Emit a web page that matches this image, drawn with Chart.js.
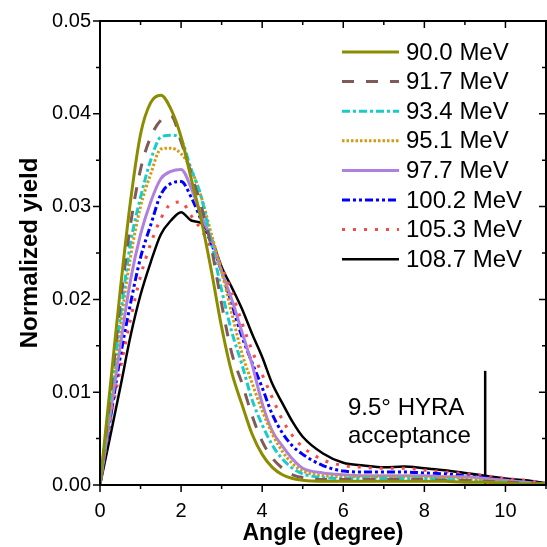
<!DOCTYPE html>
<html>
<head>
<meta charset="utf-8">
<script src="https://cdn.jsdelivr.net/npm/chart.js@4.4.1/dist/chart.umd.min.js"></script>
<style>
    html, body { margin: 0; padding: 0; background: #fff; }
    #wrap { width: 547px; height: 547px; }
</style>
</head>
<body>
<div id="wrap"><canvas id="yield-chart"></canvas></div>
<script>
// angle grid (degree)
const angles = [0, 0.25, 0.5, 0.75, 1, 1.25, 1.5, 1.75, 2, 2.25, 2.5, 2.75, 3, 3.25, 3.5, 3.75,
    4, 4.25, 4.5, 4.75, 5, 5.5, 6, 6.5, 7, 7.5, 8, 8.5, 9, 9.5, 10, 10.5, 11];

const energyLabels = ['90.0 MeV', '91.7 MeV', '93.4 MeV', '95.1 MeV', '97.7 MeV', '100.2 MeV', '105.3 MeV', '108.7 MeV'];

const yield900 = [0, 0.0105, 0.021, 0.0305, 0.0378, 0.0412, 0.042, 0.0405, 0.0375, 0.033, 0.0285, 0.023, 0.017,
    0.0121, 0.0087, 0.0055, 0.0033, 0.0019, 0.0011, 0.0007, 0.0005, 0.0004, 0.0004, 0.0004, 0.0004, 0.0004,
    0.0004, 0.0004, 0.0003, 0.0003, 0.0002, 0.0001, 0.0001];
const yield917 = [0, 0.0095, 0.0195, 0.028, 0.034, 0.0375, 0.0393, 0.0398, 0.037, 0.0335, 0.030, 0.0255, 0.0195,
    0.0142, 0.011, 0.0075, 0.0047, 0.0029, 0.0018, 0.0011, 0.0008, 0.0006, 0.0006, 0.0006, 0.0006, 0.0006,
    0.0006, 0.0005, 0.0005, 0.0004, 0.0003, 0.0002, 0.0001];
const yield934 = [0, 0.009, 0.018, 0.026, 0.031, 0.035, 0.0375, 0.0377, 0.0372, 0.034, 0.031, 0.026, 0.021,
    0.0165, 0.013, 0.0092, 0.0065, 0.0043, 0.0028, 0.0018, 0.0012, 0.0008, 0.0007, 0.0007, 0.0007, 0.0007,
    0.0007, 0.0006, 0.0005, 0.0004, 0.0003, 0.0002, 0.0001];
const yield951 = [0, 0.0085, 0.017, 0.0245, 0.030, 0.0335, 0.0362, 0.0363, 0.0357, 0.034, 0.031, 0.027, 0.023,
    0.0185, 0.0142, 0.011, 0.008, 0.0055, 0.0036, 0.0023, 0.0015, 0.001, 0.0009, 0.0009, 0.0009, 0.0009,
    0.0008, 0.0008, 0.0007, 0.0005, 0.0004, 0.0002, 0.0001];
const yield977 = [0, 0.0075, 0.015, 0.022, 0.027, 0.0305, 0.033, 0.0338, 0.034, 0.032, 0.029, 0.0265, 0.023,
    0.020, 0.0165, 0.013, 0.0088, 0.0058, 0.0042, 0.0028, 0.0018, 0.0013, 0.0011, 0.001, 0.001, 0.001,
    0.001, 0.0009, 0.0009, 0.0007, 0.0005, 0.0003, 0.0001];
const yield1002 = [0, 0.007, 0.0138, 0.0195, 0.0245, 0.028, 0.0313, 0.0325, 0.0327, 0.031, 0.0285, 0.026, 0.023,
    0.0195, 0.016, 0.0132, 0.0105, 0.0076, 0.0056, 0.0042, 0.0033, 0.0021, 0.0015, 0.0014, 0.0014, 0.0014,
    0.0013, 0.0012, 0.001, 0.0008, 0.0005, 0.0003, 0.0001];
const yield1053 = [0, 0.0068, 0.0125, 0.0178, 0.0225, 0.026, 0.0287, 0.0303, 0.0305, 0.029, 0.0275, 0.0255, 0.0235,
    0.0208, 0.0175, 0.0145, 0.0119, 0.0094, 0.007, 0.0053, 0.0041, 0.0027, 0.0021, 0.0019, 0.0018, 0.0018,
    0.0016, 0.0014, 0.0012, 0.001, 0.0007, 0.0005, 0.0002];
const yield1087 = [0, 0.0052, 0.0105, 0.016, 0.0205, 0.024, 0.027, 0.0285, 0.0294, 0.0285, 0.0282, 0.0265, 0.0235,
    0.0213, 0.019, 0.0163, 0.0138, 0.0109, 0.0088, 0.0068, 0.0052, 0.0034, 0.0024, 0.0021, 0.0019, 0.002,
    0.0018, 0.0016, 0.0013, 0.001, 0.0007, 0.0005, 0.0002];

// HYRA acceptance marker
const acceptanceAngle = 9.5;
const acceptanceTop = 0.0123;

const xTicks = [0, 2, 4, 6, 8, 10];
const yTicks = [0, 0.01, 0.02, 0.03, 0.04, 0.05];

const fontFamily = 'Arial, "Liberation Sans", Helvetica, sans-serif';

var seriesValues = [yield900, yield917, yield934, yield951, yield977, yield1002, yield1053, yield1087];
var seriesStyles = [
    { color: '#8c8c00', dash: [], width: 3 },
    { color: '#805a5a', dash: [12, 12], width: 3 },
    { color: '#18cccc', dash: [8, 3, 3, 3], width: 3 },
    { color: '#d49a10', dash: [2.5, 2], width: 3 },
    { color: '#b080e0', dash: [], width: 3 },
    { color: '#0000ff', dash: [8, 3, 3, 3, 3, 3], width: 3 },
    { color: '#f84848', dash: [3, 8], width: 3 },
    { color: '#000000', dash: [], width: 2.5 },
];

function toPoints(values) {
    return values.map((v, i) => ({ x: angles[i], y: v }));
}

var datasets = seriesValues.map((values, i) => ({
    label: energyLabels[i],
    data: toPoints(values),
    borderColor: seriesStyles[i].color,
    borderDash: seriesStyles[i].dash,
    borderWidth: seriesStyles[i].width,
    pointRadius: 0,
    cubicInterpolationMode: 'monotone',
    fill: false,
}));

datasets.push({
    label: 'acceptance',
    data: [{ x: acceptanceAngle, y: 0 }, { x: acceptanceAngle, y: acceptanceTop }],
    borderColor: '#000',
    borderWidth: 2.5,
    pointRadius: 0,
});

// frame, minor ticks, legend and annotation text
const decorations = {
    id: 'decorations',
    afterDraw(chart) {
        const ctx = chart.ctx;
        const area = chart.chartArea;
        const xs = chart.scales.x;
        const ys = chart.scales.y;
        ctx.save();
        ctx.strokeStyle = '#000';
        ctx.lineWidth = 2;
        ctx.strokeRect(area.left, area.top, area.right - area.left, area.bottom - area.top);

        ctx.lineWidth = 1.5;
        ctx.beginPath();
        for (let v = 0; v <= 11; v++) {
            const px = xs.getPixelForValue(v);
            const len = v % 2 === 0 ? 7 : 4;
            ctx.moveTo(px, area.bottom);
            ctx.lineTo(px, area.bottom + len);
            ctx.moveTo(px, area.top);
            ctx.lineTo(px, area.top + len);
        }
        for (let k = 0; k <= 10; k++) {
            const py = ys.getPixelForValue(k * 0.005);
            const len = k % 2 === 0 ? 7 : 4;
            ctx.moveTo(area.left, py);
            ctx.lineTo(area.left - len, py);
            ctx.moveTo(area.right, py);
            ctx.lineTo(area.right - len, py);
        }
        ctx.stroke();

        // legend
        ctx.font = '24px ' + fontFamily;
        ctx.textBaseline = 'middle';
        ctx.fillStyle = '#000';
        energyLabels.forEach((label, i) => {
            const y = 52 + i * 29.6;
            ctx.strokeStyle = seriesStyles[i].color;
            ctx.lineWidth = seriesStyles[i].width;
            ctx.setLineDash(seriesStyles[i].dash);
            ctx.beginPath();
            ctx.moveTo(342, y);
            ctx.lineTo(399, y);
            ctx.stroke();
            ctx.setLineDash([]);
            ctx.fillText(label, 406, y + 1);
        });

        ctx.textBaseline = 'alphabetic';
        ctx.fillText('9.5\u00b0 HYRA', 348, 415);
        ctx.fillText('acceptance', 348, 443);
        ctx.restore();
    },
};

var yieldChart = new Chart(document.getElementById('yield-chart'), {
    type: 'line',
    data: { datasets: datasets },
    options: {
        responsive: true,
        maintainAspectRatio: false,
        animation: false,
        layout: {
            padding: { top: 17, right: 1, left: 0, bottom: 0 },
        },
        scales: {
            x: {
                type: 'linear',
                min: 0,
                max: 11,
                afterFit: (scale) => { scale.height = 62; },
                afterBuildTicks: (scale) => { scale.ticks = xTicks.map((v) => ({ value: v })); },
                grid: { display: false, drawTicks: false },
                border: { display: false },
                ticks: {
                    color: '#000',
                    padding: 14,
                    font: { family: fontFamily, size: 20 },
                    callback: (v) => String(v),
                },
                title: {
                    display: true,
                    text: 'Angle (degree)',
                    color: '#000',
                    padding: { top: 0, bottom: 0 },
                    font: { family: fontFamily, size: 23, weight: 'bold' },
                },
            },
            y: {
                min: 0,
                max: 0.05,
                afterFit: (scale) => { scale.width = 100; },
                afterBuildTicks: (scale) => { scale.ticks = yTicks.map((v) => ({ value: v })); },
                grid: { display: false, drawTicks: false },
                border: { display: false },
                ticks: {
                    color: '#000',
                    padding: 9,
                    font: { family: fontFamily, size: 20 },
                    callback: (v) => v.toFixed(2),
                },
                title: {
                    display: true,
                    text: 'Normalized yield',
                    color: '#000',
                    padding: { top: 16, bottom: 0 },
                    font: { family: fontFamily, size: 24, weight: 'bold' },
                },
            },
        },
        plugins: {
            legend: { display: false },
            tooltip: { enabled: false },
        },
    },
    plugins: [decorations],
});
</script>
</body>
</html>
